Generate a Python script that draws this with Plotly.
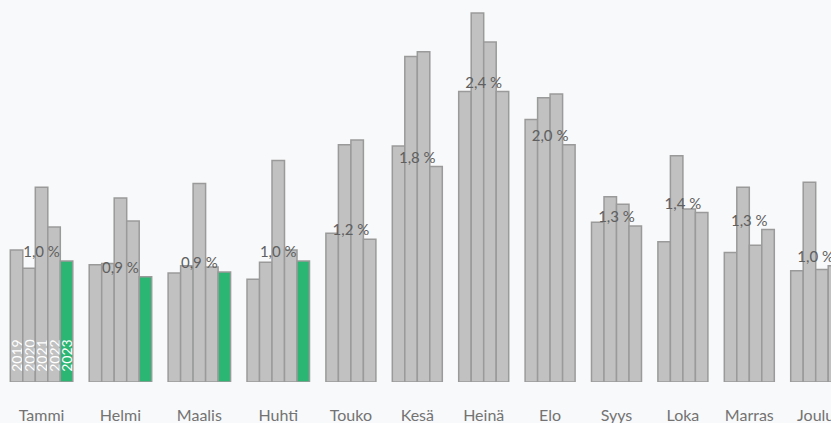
import plotly.graph_objects as go

months = ["Tammi", "Helmi", "Maalis", "Huhti", "Touko", "Kesä", "Heinä",
          "Elo", "Syys", "Loka", "Marras", "Joulu"]
years = ["2019", "2020", "2021", "2022", "2023"]

v2019 = [1.09, 0.97, 0.90, 0.85, 1.23, 1.95, 2.40, 2.17, 1.32, 1.16, 1.07, 0.92]
v2020 = [0.94, 0.98, 0.96, 0.99, 1.96, 2.69, 3.05, 2.35, 1.53, 1.87, 1.61, 1.65]
v2021 = [1.61, 1.52, 1.64, 1.83, 2.00, 2.73, 2.81, 2.38, 1.47, 1.43, 1.13, 0.93]
v2022 = [1.28, 1.33, 0.95, 1.09, 1.18, 1.78, 2.40, 1.96, 1.29, 1.40, 1.26, 0.96]
v2023 = [1.00, 0.87, 0.91, 1.00]

series = [v2019, v2020, v2021, v2022, v2023]
colors = ["#c1c1c1", "#c1c1c1", "#c1c1c1", "#c1c1c1", "#2bb673"]

W, H = 831, 423
BG = "#f8f9fa"
BAR_PX = 12.5
GAP = 16.4 / BAR_PX
LEFT_PX = 10.3
BOTTOM = 41
PX_PER_UNIT_Y = 121.0

counts = [sum(1 for s in series if m < len(s)) for m in range(len(months))]
starts = []
pos = 0.0
for c in counts:
    starts.append(pos)
    pos += c + GAP
centers = [starts[m] + counts[m] / 2 for m in range(len(months))]
latest = [series[counts[m] - 1][m] for m in range(len(months))]

fig = go.Figure()
for k, s in enumerate(series):
    xs = [starts[m] + k + 0.5 for m in range(len(s))]
    texts = ["\u00a0\u00a0" + years[k] if m == 0 else "" for m in range(len(s))]
    fig.add_trace(go.Bar(
        x=xs, y=s, width=1.0, name=years[k],
        marker=dict(color=colors[k], line=dict(color="#9a9a9a", width=1.5)),
        text=texts, textposition="inside", insidetextanchor="start",
        textangle=-90, constraintext="none",
        textfont=dict(color="white", size=14, family="Lato"),
        hoverinfo="skip",
    ))

fig.add_trace(go.Scatter(
    x=centers, y=latest, mode="text",
    text=[f"{v:.1f}".replace(".", ",") + " %" for v in latest],
    textposition="top center",
    textfont=dict(color="#5f5f5f", size=15, family="Lato"),
    hoverinfo="skip", showlegend=False,
))

plot_h = H - BOTTOM
fig.update_layout(
    width=W, height=H,
    margin=dict(l=0, r=0, t=0, b=BOTTOM, pad=0),
    paper_bgcolor=BG, plot_bgcolor=BG,
    showlegend=False, barmode="overlay",
    uniformtext=dict(mode="show", minsize=14),
    font=dict(family="Lato", color="#6b6b6b"),
    xaxis=dict(
        range=[-LEFT_PX / BAR_PX, (W - LEFT_PX) / BAR_PX],
        tickvals=centers, ticktext=months,
        showgrid=False, zeroline=False, showline=False, ticks="",
        tickfont=dict(size=16, color="#737373", family="Lato"),
        ticklabelstandoff=22, ticklabeloverflow="allow", automargin=False,
    ),
    yaxis=dict(
        range=[0, plot_h / PX_PER_UNIT_Y],
        visible=False, showgrid=False, zeroline=False, automargin=False,
    ),
)

fig.write_html(
    "out.html",
    config={"displayModeBar": False},
    post_script=("document.body.style.margin='0';"
                 "document.body.style.background='" + BG + "';"
                 "document.body.style.overflow='hidden';"),
)
